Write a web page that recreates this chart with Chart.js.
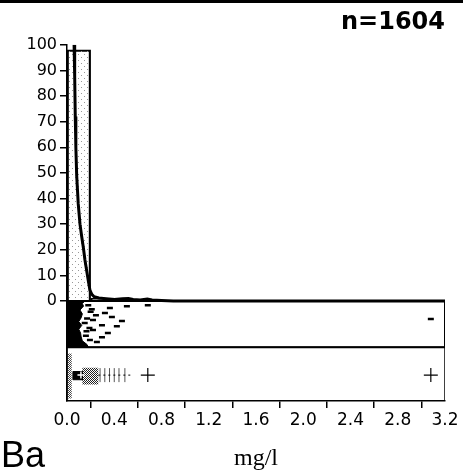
<!DOCTYPE html>
<html lang="en">
<head>
    <meta charset="UTF-8">
    <title>Ba distribution</title>
    <script src="https://cdn.jsdelivr.net/npm/chart.js"></script>
    <style>
        body {
            margin: 0;
            background: #fff;
        }
        .wrap {
            position: relative;
            width: 463px;
            height: 473px;
        }
        .topline {
            position: absolute;
            left: 0;
            top: 0;
            width: 463px;
            height: 3px;
            background: #000;
        }
    </style>
</head>
<body>
<div class="wrap">
    <div class="topline"></div>
    <canvas id="baChart" width="463" height="473"></canvas>
</div>

<script>
    // histogram, percent per 0.2 mg/l bin
    const binCenters = [0.1, 0.3, 0.5, 0.7, 0.9, 1.1, 1.3, 1.5, 1.7, 1.9, 2.1, 2.3, 2.5, 2.7, 2.9, 3.1];
    const binPercent = [98, 1.2, 0.4, 0.2, 0.1, 0, 0, 0, 0, 0, 0, 0, 0, 0, 0.06, 0];

    // density-like curve
    const curveX = [0.06, 0.065, 0.07, 0.075, 0.082, 0.095, 0.11, 0.125, 0.138, 0.152, 0.166, 0.18, 0.194, 0.21, 0.23, 0.27, 0.33, 0.4, 0.47, 0.52, 0.56, 0.62, 0.68, 0.72, 0.8, 0.9, 3.2];
    const curveY = [100, 88, 72, 60, 49, 38, 30, 25, 21, 16, 12, 8, 4.3, 2.6, 1.7, 1.2, 0.9, 0.6, 0.9, 1.0, 0.6, 0.4, 0.8, 0.4, 0.2, 0, 0];

    // point strip: dense block edge + single samples
    const massEdgeY = [0, -1, -2, -3.5, -5, -6.5, -8, -9.5, -11, -12.5, -14, -15.5, -17, -18];
    const massEdgeX = [0.15, 0.13, 0.14, 0.11, 0.13, 0.12, 0.1, 0.125, 0.1, 0.115, 0.12, 0.13, 0.17, 0.18];
    const dashX = [0.363, 0.507, 0.684, 0.321, 0.245, 0.38, 0.465, 0.22, 0.296, 0.422, 0.22, 0.346, 0.296, 0.194, 0.253, 0.18, 0.2, 0.17, 0.19, 0.16, 0.15, 0.165, 0.21, 3.08];
    const dashY = [-2.7, -2.0, -1.6, -4.7, -5.5, -6.25, -7.8, -7.4, -9.4, -9.8, -11.3, -12.5, -14.1, -15.2, -16.0, -1.6, -4.2, -6.8, -10.5, -13.5, -8.6, -11.8, -3.2, -7.0];

    // box strip
    const boxMid = -28.9;
    const lowColX = [0.005, 0.04], lowColY = [-20.5, -38];
    const coreX = [0.05, 0.13], coreY = [-27.5, -30.7];
    const outerX = [0.13, 0.265], outerY = [-26.0, -32.6];
    const meanX = 0.118;
    const stripeX = [0.28, 0.32, 0.36, 0.40, 0.44, 0.49];
    const outlierX = [0.684, 3.08];

    const xMin = 0, xMax = 3.2;
    const stripTop = 0, stripMid = -18, stripBottom = -39;

    function rect(x0, x1, y0, y1) {
        return [{x: x0, y: y0}, {x: x1, y: y0}, {x: x1, y: y1}, {x: x0, y: y1}, {x: x0, y: y0}];
    }

    function dots(size, color) {
        const c = document.createElement('canvas');
        c.width = size; c.height = size;
        const g = c.getContext('2d');
        g.fillStyle = color;
        g.fillRect(0, 0, 1, 1);
        g.fillRect(Math.floor(size / 2), Math.floor(size / 2), 1, 1);
        return g.createPattern(c, 'repeat');
    }

    const ctx = document.getElementById('baChart').getContext('2d');

    const massPoly = [{x: xMin + 0.005, y: massEdgeY[0]}];
    massEdgeY.forEach((y, i) => massPoly.push({x: massEdgeX[i], y: y}));
    massPoly.push({x: xMin + 0.005, y: massEdgeY[massEdgeY.length - 1]});

    const cornerText = {
        id: 'cornerText',
        afterDraw(chart) {
            const c = chart.ctx;
            c.save();
            c.fillStyle = '#000';
            c.font = '36px "Liberation Sans"';
            c.textBaseline = 'alphabetic';
            c.textAlign = 'left';
            c.fillText('Ba', 1, 467);
            c.restore();
        }
    };

    new Chart(ctx, {
        type: 'scatter',
        data: {
            datasets: [
                {
                    // histogram
                    type: 'bar',
                    data: binCenters.map((x, i) => ({x: x, y: binPercent[i]})),
                    backgroundColor: dots(6, '#999'),
                    borderColor: '#000',
                    borderWidth: 1.5,
                    barPercentage: 1,
                    categoryPercentage: 1,
                    grouped: false,
                    order: 5
                },
                {
                    // curve
                    data: curveX.map((x, i) => ({x: x, y: curveY[i]})),
                    showLine: true,
                    borderColor: '#000',
                    borderWidth: 3,
                    pointRadius: 0,
                    tension: 0,
                    order: 1
                },
                {
                    // dense block of points
                    data: massPoly,
                    showLine: true,
                    fill: 'shape',
                    backgroundColor: '#000',
                    borderColor: '#000',
                    borderWidth: 1,
                    pointRadius: 0,
                    order: 3
                },
                {
                    data: dashX.map((x, i) => ({x: x, y: dashY[i]})),
                    pointStyle: 'line',
                    pointRadius: 3,
                    borderColor: '#000',
                    borderWidth: 2.5,
                    order: 3
                },
                {
                    // strip frames
                    data: rect(xMin, xMax, stripTop, stripMid),
                    showLine: true,
                    borderColor: '#000',
                    borderWidth: 2,
                    pointRadius: 0,
                    order: 2
                },
                {
                    data: rect(xMin, xMax, stripMid, stripBottom),
                    showLine: true,
                    borderColor: '#000',
                    borderWidth: 1.5,
                    pointRadius: 0,
                    order: 2
                },
                {
                    data: rect(lowColX[0], lowColX[1], lowColY[0], lowColY[1]),
                    showLine: true,
                    fill: 'shape',
                    backgroundColor: dots(2, '#444'),
                    borderColor: 'rgba(0,0,0,0)',
                    pointRadius: 0,
                    order: 4
                },
                {
                    data: rect(outerX[0], outerX[1], outerY[0], outerY[1]),
                    showLine: true,
                    fill: 'shape',
                    backgroundColor: dots(2, '#222'),
                    borderColor: 'rgba(0,0,0,0)',
                    pointRadius: 0,
                    order: 4
                },
                {
                    data: rect(coreX[0], coreX[1], coreY[0], coreY[1]),
                    showLine: true,
                    fill: 'shape',
                    backgroundColor: '#000',
                    borderColor: '#000',
                    borderWidth: 1,
                    pointRadius: 0,
                    order: 3
                },
                {
                    data: [{x: outerX[1], y: boxMid}, {x: stripeX[stripeX.length - 1] + 0.06, y: boxMid}],
                    showLine: true,
                    borderColor: '#000',
                    borderWidth: 1,
                    borderDash: [2, 3],
                    pointRadius: 0,
                    order: 3
                },
                {
                    data: stripeX.map(x => ({x: x, y: boxMid})),
                    pointStyle: 'line',
                    rotation: 90,
                    pointRadius: 7,
                    borderColor: '#555',
                    borderWidth: 1,
                    order: 3
                },
                {
                    data: [{x: meanX, y: boxMid}],
                    pointStyle: 'cross',
                    pointRadius: 3.5,
                    borderColor: '#fff',
                    borderWidth: 1.5,
                    order: 0
                },
                {
                    data: outlierX.map(x => ({x: x, y: boxMid})),
                    pointStyle: 'cross',
                    pointRadius: 7,
                    borderColor: '#000',
                    borderWidth: 1.2,
                    order: 0
                }
            ]
        },
        options: {
            responsive: false,
            animation: false,
            events: [],
            layout: {
                padding: {top: 0, right: 18, bottom: 0, left: 0}
            },
            plugins: {
                legend: {display: false},
                tooltip: {enabled: false},
                title: {
                    display: true,
                    text: 'n=1604',
                    align: 'end',
                    fullSize: false,
                    color: '#000',
                    font: {family: 'DejaVu Sans', size: 24, weight: 'bold', lineHeight: 1.2},
                    padding: {top: 8, bottom: 8}
                }
            },
            scales: {
                x: {
                    type: 'linear',
                    min: xMin,
                    max: xMax,
                    offset: false,
                    afterFit: s => { s.height = 72; },
                    ticks: {
                        stepSize: 0.4,
                        color: '#000',
                        padding: 2,
                        maxRotation: 0,
                        font: {family: 'DejaVu Sans', size: 17},
                        callback: v => Number(v).toFixed(1)
                    },
                    grid: {
                        drawOnChartArea: false,
                        tickLength: 7,
                        color: '#000',
                        lineWidth: 1.5
                    },
                    border: {display: true, color: '#000', width: 1.5},
                    title: {
                        display: true,
                        text: 'mg/l',
                        color: '#000',
                        font: {family: 'Liberation Serif', size: 24},
                        padding: {top: 0, bottom: 0}
                    }
                },
                y: {
                    type: 'linear',
                    min: stripBottom,
                    max: 100,
                    afterFit: s => { s.width = 67; },
                    ticks: {
                        stepSize: 10,
                        color: '#000',
                        padding: 3,
                        font: {family: 'DejaVu Sans', size: 16},
                        callback: v => (v < 0 ? '' : v)
                    },
                    grid: {
                        drawOnChartArea: false,
                        tickLength: 7,
                        lineWidth: 1.5,
                        color: c => (c.tick && c.tick.value < 0 ? 'rgba(0,0,0,0)' : '#000')
                    },
                    border: {display: true, color: '#000', width: 1.5}
                }
            }
        },
        plugins: [cornerText]
    });
</script>
</body>
</html>
